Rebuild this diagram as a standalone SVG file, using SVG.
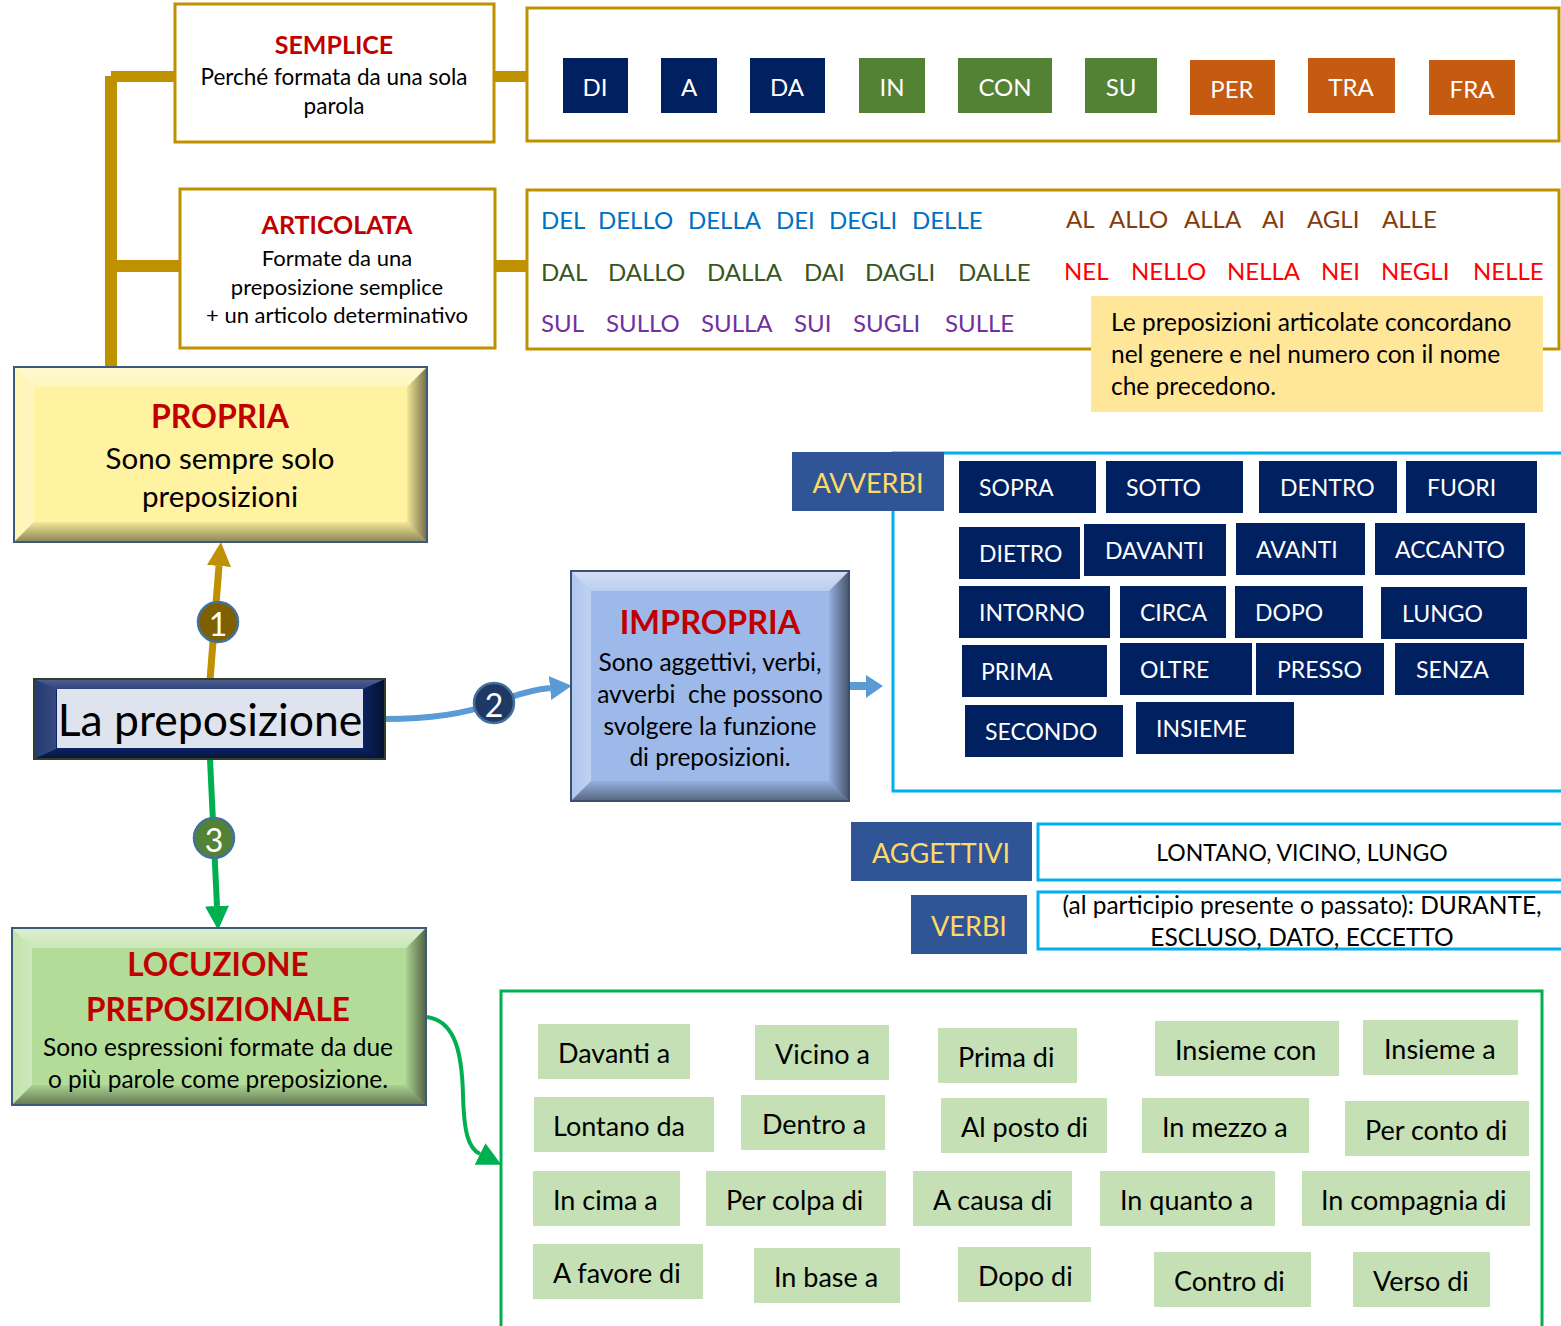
<svg xmlns="http://www.w3.org/2000/svg" width="1561" height="1326" viewBox="0 0 1561 1326">
<style>
text{font-family:Lato,Carlito,"Liberation Sans",sans-serif}
.gold{fill:none;stroke:#BF9000;stroke-width:3}
.goldbar{fill:#BF9000}
.ttl{fill:#C00000;font-weight:bold;text-anchor:middle}
.c{text-anchor:middle}
.blk{fill:#000}
.chip{font-size:24px;fill:#fff;text-anchor:middle;dominant-baseline:central}
.navy{fill:#002060}
.grn{fill:#548235}
.org{fill:#C55A11}
.w{font-size:24px;dominant-baseline:central}
.av rect{fill:#002060}
.av text{fill:#fff;font-size:23px;dominant-baseline:central}
.lab{fill:#2F5597}
.labt{fill:#FFD966;font-size:27px;text-anchor:middle;dominant-baseline:central}
.cyan{fill:none;stroke:#00B0F0;stroke-width:3}
.lc rect{fill:#C5E0B4}
.lc text{fill:#000;font-size:27px;dominant-baseline:central}
.num{fill:#fff;font-size:32px;text-anchor:middle;dominant-baseline:central}
.circ{stroke:#41719C;stroke-width:2.5}
</style>
<defs>
<linearGradient id="gT" x1="0" y1="0" x2="0" y2="1"><stop offset="0" stop-color="#fff" stop-opacity=".55"/><stop offset="1" stop-color="#fff" stop-opacity=".3"/></linearGradient>
<linearGradient id="gB" x1="0" y1="0" x2="0" y2="1"><stop offset="0" stop-color="#000" stop-opacity=".05"/><stop offset="1" stop-color="#000" stop-opacity=".45"/></linearGradient>
<linearGradient id="gR" x1="0" y1="0" x2="1" y2="0"><stop offset="0" stop-color="#000" stop-opacity=".05"/><stop offset="1" stop-color="#000" stop-opacity=".55"/></linearGradient>
<linearGradient id="gL" x1="0" y1="0" x2="1" y2="0"><stop offset="0" stop-color="#fff" stop-opacity=".2"/><stop offset="1" stop-color="#fff" stop-opacity=".35"/></linearGradient>
<marker id="aGold" viewBox="0 0 24 24" refX="0" refY="12" markerWidth="24" markerHeight="24" markerUnits="userSpaceOnUse" orient="auto"><path d="M0,0 L24,12 L0,24 z" fill="#BF9000"/></marker>
<marker id="aBlue" viewBox="0 0 22 24" refX="0" refY="12" markerWidth="22" markerHeight="24" markerUnits="userSpaceOnUse" orient="auto"><path d="M0,0 L22,12 L0,24 z" fill="#5B9BD5"/></marker>
<marker id="aGreen" viewBox="0 0 24 24" refX="0" refY="12" markerWidth="24" markerHeight="24" markerUnits="userSpaceOnUse" orient="auto"><path d="M0,0 L24,12 L0,24 z" fill="#00B050"/></marker>
</defs>

<!-- connectors -->
<g id="connectors">
  <rect class="goldbar" x="105" y="76" width="12" height="292"/>
  <rect class="goldbar" x="111" y="71" width="64" height="11"/>
  <rect class="goldbar" x="117" y="260" width="63" height="12"/>
  <rect class="goldbar" x="494" y="71" width="33" height="11"/>
  <rect class="goldbar" x="495" y="260" width="32" height="12"/>
  <path d="M210,680 L219,566" fill="none" stroke="#BF9000" stroke-width="7" marker-end="url(#aGold)"/>
  <path d="M385,719 C430,719 465,714 494,703 C512,696 530,690 550,688" fill="none" stroke="#5B9BD5" stroke-width="6" marker-end="url(#aBlue)"/>
  <path d="M210,759 L217,906" fill="none" stroke="#00B050" stroke-width="6" marker-end="url(#aGreen)"/>
  <path d="M427,1017 C456,1021 462,1055 463,1095 C464,1132 468,1148 480,1154" fill="none" stroke="#00B050" stroke-width="4" marker-end="url(#aGreen)"/>
  <path d="M849,682 H866 V675 L883,686 L866,698 V690 H849 z" fill="#5B9BD5"/>
  <g id="n1"><circle class="circ" cx="218" cy="622" r="20" fill="#7F6000"/><text class="num" x="218" y="623">1</text></g>
  <g id="n2"><circle class="circ" cx="494" cy="703" r="20" fill="#1F3864"/><text class="num" x="494" y="704">2</text></g>
  <g id="n3"><circle class="circ" cx="214" cy="838" r="20" fill="#548235"/><text class="num" x="214" y="839">3</text></g>
</g>

<!-- SEMPLICE -->
<g id="semplice">
  <rect class="gold" x="175" y="4" width="319" height="138"/>
  <text class="ttl" x="334" y="54" font-size="25">SEMPLICE</text>
  <text class="c blk" x="334" y="85" font-size="22.5">Perché formata da una sola</text>
  <text class="c blk" x="334" y="114" font-size="22.5">parola</text>
</g>

<!-- ARTICOLATA -->
<g id="articolata">
  <rect class="gold" x="180" y="189" width="315" height="159"/>
  <text class="ttl" x="337" y="234" font-size="25">ARTICOLATA</text>
  <text class="c blk" x="337" y="266" font-size="22">Formate da una</text>
  <text class="c blk" x="337" y="295" font-size="22">preposizione semplice</text>
  <text class="c blk" x="337" y="323" font-size="22">+ un articolo determinativo</text>
</g>

<!-- semplici list -->
<g id="semplici">
  <rect class="gold" x="527" y="8" width="1032" height="133"/>
  <rect class="navy" x="563" y="58" width="65" height="55"/><text class="chip" x="595" y="86">DI</text>
  <rect class="navy" x="661" y="58" width="56" height="55"/><text class="chip" x="689" y="86">A</text>
  <rect class="navy" x="750" y="58" width="75" height="55"/><text class="chip" x="787" y="86">DA</text>
  <rect class="grn" x="859" y="58" width="66" height="55"/><text class="chip" x="892" y="86">IN</text>
  <rect class="grn" x="958" y="58" width="94" height="55"/><text class="chip" x="1005" y="86">CON</text>
  <rect class="grn" x="1085" y="58" width="72" height="55"/><text class="chip" x="1121" y="86">SU</text>
  <rect class="org" x="1190" y="60" width="85" height="55"/><text class="chip" x="1232" y="88">PER</text>
  <rect class="org" x="1308" y="58" width="87" height="55"/><text class="chip" x="1351" y="86">TRA</text>
  <rect class="org" x="1429" y="60" width="86" height="55"/><text class="chip" x="1472" y="88">FRA</text>
</g>

<!-- articolate list -->
<g id="articolate">
  <rect class="gold" x="527" y="190" width="1032" height="159"/>
  <g class="w" fill="#0070C0">
    <text x="541" y="219">DEL</text><text x="598" y="219">DELLO</text><text x="688" y="219">DELLA</text><text x="776" y="219">DEI</text><text x="829" y="219">DEGLI</text><text x="912" y="219">DELLE</text>
  </g>
  <g class="w" fill="#843C0C">
    <text x="1066" y="218">AL</text><text x="1109" y="218">ALLO</text><text x="1184" y="218">ALLA</text><text x="1262" y="218">AI</text><text x="1307" y="218">AGLI</text><text x="1382" y="218">ALLE</text>
  </g>
  <g class="w" fill="#375623">
    <text x="541" y="271">DAL</text><text x="608" y="271">DALLO</text><text x="707" y="271">DALLA</text><text x="804" y="271">DAI</text><text x="865" y="271">DAGLI</text><text x="958" y="271">DALLE</text>
  </g>
  <g class="w" fill="#FF0000">
    <text x="1064" y="270">NEL</text><text x="1131" y="270">NELLO</text><text x="1227" y="270">NELLA</text><text x="1321" y="270">NEI</text><text x="1381" y="270">NEGLI</text><text x="1473" y="270">NELLE</text>
  </g>
  <g class="w" fill="#7030A0">
    <text x="541" y="322">SUL</text><text x="606" y="322">SULLO</text><text x="701" y="322">SULLA</text><text x="794" y="322">SUI</text><text x="853" y="322">SUGLI</text><text x="945" y="322">SULLE</text>
  </g>
</g>

<!-- note -->
<g id="nota">
  <rect x="1091" y="296" width="452" height="116" fill="#FFE699"/>
  <g font-size="24.5" fill="#000">
    <text x="1111" y="331">Le preposizioni articolate concordano</text>
    <text x="1111" y="363">nel genere e nel numero con il nome</text>
    <text x="1111" y="395">che precedono.</text>
  </g>
</g>

<!-- PROPRIA -->
<g id="propria" transform="translate(14,367)">
  <rect width="413" height="175" fill="#FFF2A0"/>
  <polygon points="0,0 413,0 393,20 20,20" fill="url(#gT)"/>
  <polygon points="0,0 20,20 20,155 0,175" fill="url(#gL)"/>
  <polygon points="413,0 413,175 393,155 393,20" fill="url(#gR)"/>
  <polygon points="0,175 20,155 393,155 413,175" fill="url(#gB)"/>
  <rect width="413" height="175" fill="none" stroke="#3E5A7A" stroke-width="2"/>
  <text class="ttl" x="206" y="61" font-size="32">PROPRIA</text>
  <text class="c blk" x="206" y="102" font-size="29.5">Sono sempre solo</text>
  <text class="c blk" x="206" y="140" font-size="29.5">preposizioni</text>
</g>

<!-- La preposizione -->
<g id="main" transform="translate(34,679)">
  <rect width="351" height="80" fill="#0C2466"/>
  <polygon points="0,0 351,0 329,10 22,10" fill="url(#gT)" opacity=".5"/>
  <polygon points="0,0 22,10 22,70 0,80" fill="url(#gL)" opacity=".5"/>
  <polygon points="351,0 351,80 329,70 329,10" fill="url(#gR)"/>
  <polygon points="0,80 22,70 329,70 351,80" fill="url(#gB)"/>
  <rect width="351" height="80" fill="none" stroke="#2F3F2A" stroke-width="2"/>
  <rect x="23" y="10" width="306" height="59" fill="#DEE3ED"/>
  <text x="176" y="57" font-size="44.5" class="c blk">La preposizione</text>
</g>

<!-- IMPROPRIA -->
<g id="impropria" transform="translate(571,571)">
  <rect width="278" height="230" fill="#9DB9EA"/>
  <polygon points="0,0 278,0 258,20 20,20" fill="url(#gT)"/>
  <polygon points="0,0 20,20 20,210 0,230" fill="url(#gL)"/>
  <polygon points="278,0 278,230 258,210 258,20" fill="url(#gR)"/>
  <polygon points="0,230 20,210 258,210 278,230" fill="url(#gB)"/>
  <rect width="278" height="230" fill="none" stroke="#3A5070" stroke-width="2"/>
  <text class="ttl" x="139" y="63" font-size="32.5">IMPROPRIA</text>
  <g font-size="24.5" class="c blk">
    <text x="139" y="100">Sono aggettivi, verbi,</text>
    <text x="139" y="132" xml:space="preserve">avverbi  che possono</text>
    <text x="139" y="164">svolgere la funzione</text>
    <text x="139" y="195">di preposizioni.</text>
  </g>
</g>

<!-- AVVERBI -->
<g id="avverbi">
  <path class="cyan" d="M1563,453 H893 V791 H1563"/>
  <rect class="lab" x="792" y="452" width="152" height="59"/>
  <text class="labt" x="868" y="482">AVVERBI</text>
  <g class="av">
    <rect x="959" y="461" width="137" height="52"/><text x="979" y="487">SOPRA</text>
    <rect x="1106" y="461" width="137" height="52"/><text x="1126" y="487">SOTTO</text>
    <rect x="1259" y="461" width="138" height="52"/><text x="1280" y="487">DENTRO</text>
    <rect x="1406" y="461" width="131" height="52"/><text x="1427" y="487">FUORI</text>
    <rect x="959" y="527" width="121" height="52"/><text x="979" y="553">DIETRO</text>
    <rect x="1084" y="524" width="142" height="52"/><text x="1105" y="550">DAVANTI</text>
    <rect x="1236" y="523" width="129" height="52"/><text x="1256" y="549">AVANTI</text>
    <rect x="1375" y="523" width="150" height="52"/><text x="1395" y="549">ACCANTO</text>
    <rect x="959" y="586" width="151" height="52"/><text x="979" y="612">INTORNO</text>
    <rect x="1120" y="586" width="106" height="52"/><text x="1140" y="612">CIRCA</text>
    <rect x="1235" y="586" width="128" height="52"/><text x="1255" y="612">DOPO</text>
    <rect x="1381" y="587" width="146" height="52"/><text x="1402" y="613">LUNGO</text>
    <rect x="962" y="645" width="145" height="52"/><text x="981" y="671">PRIMA</text>
    <rect x="1120" y="643" width="132" height="52"/><text x="1140" y="669">OLTRE</text>
    <rect x="1256" y="643" width="128" height="52"/><text x="1277" y="669">PRESSO</text>
    <rect x="1395" y="643" width="129" height="52"/><text x="1416" y="669">SENZA</text>
    <rect x="965" y="705" width="158" height="52"/><text x="985" y="731">SECONDO</text>
    <rect x="1136" y="702" width="158" height="52"/><text x="1156" y="728">INSIEME</text>
  </g>
</g>

<!-- AGGETTIVI -->
<g id="aggettivi">
  <rect class="lab" x="851" y="822" width="181" height="59"/>
  <text class="labt" x="941" y="852">AGGETTIVI</text>
  <path class="cyan" d="M1563,824 H1038 V880 H1563"/>
  <text class="c blk" x="1302" y="861" font-size="23">LONTANO, VICINO, LUNGO</text>
</g>

<!-- VERBI -->
<g id="verbi">
  <rect class="lab" x="911" y="895" width="116" height="59"/>
  <text class="labt" x="969" y="925">VERBI</text>
  <path class="cyan" d="M1563,892 H1038 V949 H1563"/>
  <text class="c blk" x="1302" y="914" font-size="24.5">(al participio presente o passato): DURANTE,</text>
  <text class="c blk" x="1302" y="946" font-size="24.5">ESCLUSO, DATO, ECCETTO</text>
</g>

<!-- LOCUZIONE -->
<g id="locuzione" transform="translate(12,928)">
  <rect width="414" height="177" fill="#B3DC98"/>
  <polygon points="0,0 414,0 394,20 20,20" fill="url(#gT)"/>
  <polygon points="0,0 20,20 20,157 0,177" fill="url(#gL)"/>
  <polygon points="414,0 414,177 394,157 394,20" fill="url(#gR)"/>
  <polygon points="0,177 20,157 394,157 414,177" fill="url(#gB)"/>
  <rect width="414" height="177" fill="none" stroke="#3E5A7A" stroke-width="2"/>
  <text class="ttl" x="206" y="48" font-size="31.5">LOCUZIONE</text>
  <text class="ttl" x="206" y="93" font-size="31.5">PREPOSIZIONALE</text>
  <text class="c blk" x="206" y="128" font-size="24.5">Sono espressioni formate da due</text>
  <text class="c blk" x="206" y="160" font-size="24.5">o più parole come preposizione.</text>
</g>

<!-- locuzioni list -->
<g id="locuzioni">
  <path d="M501,1330 V991 H1542 V1330" fill="none" stroke="#00B050" stroke-width="3"/>
  <g class="lc">
    <rect x="538" y="1024" width="152" height="55"/><text x="558" y="1052">Davanti a</text>
    <rect x="755" y="1025" width="134" height="55"/><text x="775" y="1053">Vicino a</text>
    <rect x="938" y="1028" width="139" height="55"/><text x="958" y="1056">Prima di</text>
    <rect x="1155" y="1021" width="184" height="55"/><text x="1175" y="1049">Insieme con</text>
    <rect x="1363" y="1020" width="155" height="55"/><text x="1384" y="1048">Insieme a</text>
    <rect x="534" y="1097" width="180" height="55"/><text x="553" y="1125">Lontano da</text>
    <rect x="741" y="1095" width="144" height="55"/><text x="762" y="1123">Dentro a</text>
    <rect x="941" y="1098" width="166" height="55"/><text x="961" y="1126">Al posto di</text>
    <rect x="1142" y="1098" width="167" height="55"/><text x="1162" y="1126">In mezzo a</text>
    <rect x="1345" y="1101" width="184" height="55"/><text x="1365" y="1129">Per conto di</text>
    <rect x="533" y="1171" width="147" height="55"/><text x="553" y="1199">In cima a</text>
    <rect x="706" y="1171" width="180" height="55"/><text x="726" y="1199">Per colpa di</text>
    <rect x="913" y="1171" width="159" height="55"/><text x="933" y="1199">A causa di</text>
    <rect x="1100" y="1171" width="175" height="55"/><text x="1120" y="1199">In quanto a</text>
    <rect x="1302" y="1171" width="228" height="55"/><text x="1321" y="1199">In compagnia di</text>
    <rect x="533" y="1244" width="170" height="55"/><text x="553" y="1272">A favore di</text>
    <rect x="754" y="1248" width="146" height="55"/><text x="774" y="1276">In base a</text>
    <rect x="958" y="1247" width="133" height="55"/><text x="978" y="1275">Dopo di</text>
    <rect x="1154" y="1252" width="157" height="55"/><text x="1174" y="1280">Contro di</text>
    <rect x="1353" y="1252" width="137" height="55"/><text x="1373" y="1280">Verso di</text>
  </g>
</g>
</svg>
